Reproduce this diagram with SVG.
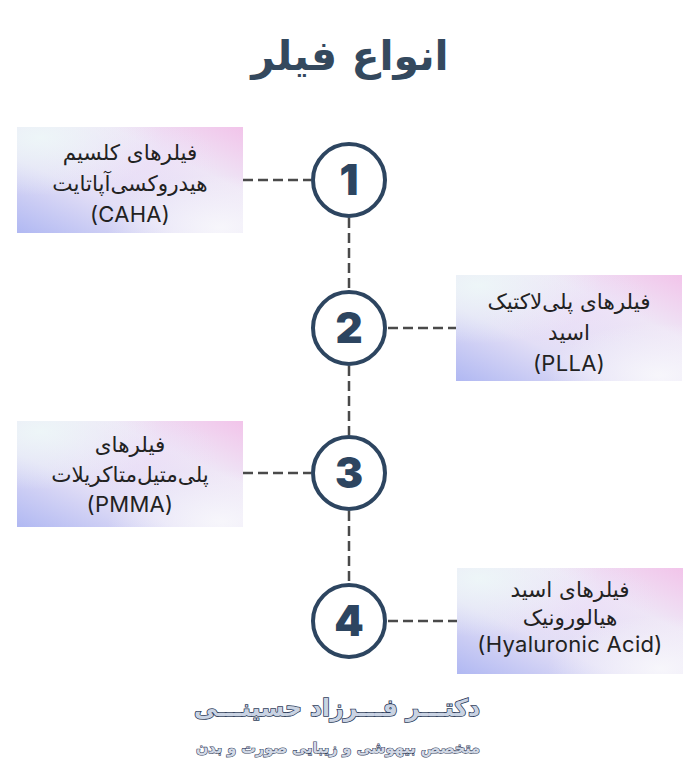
<svg xmlns="http://www.w3.org/2000/svg" width="700" height="763" viewBox="0 0 700 763">
<style>
.fa{font-family:"DejaVu Sans","Noto Sans",sans-serif;font-size:21.5px;fill:#222;text-anchor:middle}
.la{font-family:Inter,"Open Sans",sans-serif;font-size:22px;fill:#222;text-anchor:middle;letter-spacing:0.3px}
.num{font-family:Inter,Roboto,sans-serif;font-size:42px;font-weight:900;fill:#2d4560;text-anchor:middle}
.ring{fill:#fff;stroke:#2d4560;stroke-width:4}
.dash{stroke:#4a4a4a;stroke-width:2.5;stroke-dasharray:10 5;fill:none}
</style>
<defs>
<linearGradient id="base" x1="0" y1="1" x2="1" y2="0">
<stop offset="0" stop-color="#b0b8f2"/>
<stop offset="0.35" stop-color="#e2def6"/>
<stop offset="0.7" stop-color="#eee6f6"/>
<stop offset="1" stop-color="#f2c4ea"/>
</linearGradient>
<radialGradient id="w1" cx="0.1" cy="0.1" r="0.55">
<stop offset="0" stop-color="#eef8f8" stop-opacity="0.9"/>
<stop offset="1" stop-color="#eef8f8" stop-opacity="0"/>
</radialGradient>
<radialGradient id="w2" cx="0.9" cy="0.95" r="0.5">
<stop offset="0" stop-color="#fafafc" stop-opacity="0.85"/>
<stop offset="1" stop-color="#fafafc" stop-opacity="0"/>
</radialGradient>
<radialGradient id="w3" cx="0.5" cy="0.3" r="0.4">
<stop offset="0" stop-color="#ecdcf8" stop-opacity="0.6"/>
<stop offset="1" stop-color="#ecdcf8" stop-opacity="0"/>
</radialGradient>
<g id="card">
<rect width="226" height="106" fill="url(#base)"/>
<rect width="226" height="106" fill="url(#w3)"/>
<rect width="226" height="106" fill="url(#w1)"/>
<rect width="226" height="106" fill="url(#w2)"/>
</g>
</defs>
<rect width="700" height="763" fill="#fff"/>
<text x="350" y="70" font-family="'DejaVu Sans',sans-serif" font-size="41" font-weight="bold" fill="#34495e" text-anchor="middle">انواع فیلر</text>

<g id="connectors">
<line class="dash" x1="243" y1="180" x2="311" y2="180"/>
<line class="dash" x1="388" y1="328" x2="456" y2="328"/>
<line class="dash" x1="243" y1="473" x2="311" y2="473"/>
<line class="dash" x1="388" y1="621" x2="457" y2="621"/>
<line class="dash" x1="349" y1="218" x2="349" y2="290"/>
<line class="dash" x1="349" y1="366" x2="349" y2="435"/>
<line class="dash" x1="349" y1="511" x2="349" y2="583"/>
</g>

<g id="box1">
<use href="#card" x="17" y="127"/>
<text class="fa" x="130" y="160">فیلرهای کلسیم</text>
<text class="fa" x="130" y="191">هیدروکسی‌آپاتایت</text>
<text class="la" x="130" y="222">(CAHA)</text>
</g>
<g id="box2">
<use href="#card" x="456" y="275"/>
<text class="fa" x="569" y="309">فیلرهای پلی‌لاکتیک</text>
<text class="fa" x="569" y="340">اسید</text>
<text class="la" x="569" y="371">(PLLA)</text>
</g>
<g id="box3">
<use href="#card" x="17" y="421"/>
<text class="fa" x="130" y="452">فیلرهای</text>
<text class="fa" x="130" y="482">پلی‌متیل‌متاکریلات</text>
<text class="la" x="130" y="512">(PMMA)</text>
</g>
<g id="box4">
<use href="#card" x="457" y="568"/>
<text class="fa" x="570" y="597">فیلرهای اسید</text>
<text class="fa" x="570" y="625">هیالورونیک</text>
<text class="la" x="570" y="652">(Hyaluronic Acid)</text>
</g>

<g id="n1"><circle class="ring" cx="349" cy="180" r="36"/><text class="num" x="349" y="195">1</text></g>
<g id="n2"><circle class="ring" cx="349" cy="328" r="36"/><text class="num" x="349" y="343">2</text></g>
<g id="n3"><circle class="ring" cx="349" cy="473" r="36"/><text class="num" x="349" y="488">3</text></g>
<g id="n4"><circle class="ring" cx="349" cy="621" r="36"/><text class="num" x="349" y="636">4</text></g>

<g id="footer">
<text x="337" y="716" font-family="'DejaVu Sans',sans-serif" font-size="23.5" font-weight="bold" fill="#c9d3e3" stroke="#2f3e5a" stroke-width="1.6" paint-order="stroke" text-anchor="middle">دکتـــر فـــرزاد حسینـــی</text>
<text x="338" y="753" font-family="'DejaVu Sans',sans-serif" font-size="14.5" font-weight="bold" fill="#d2d9e6" stroke="#3a4660" stroke-width="1.2" paint-order="stroke" text-anchor="middle">متخصص بیهوشی و زیبایی صورت و بدن</text>
</g>
</svg>
